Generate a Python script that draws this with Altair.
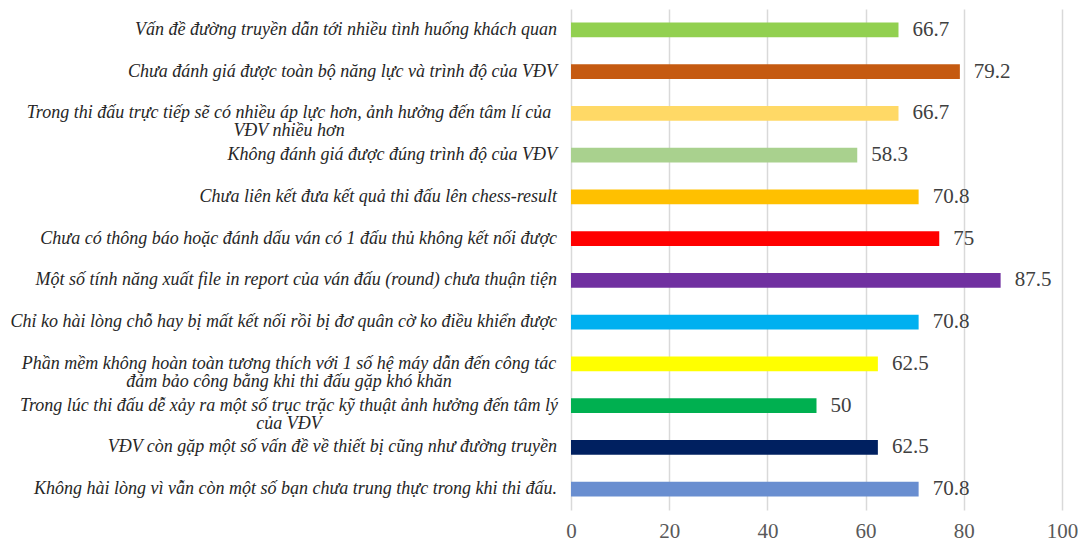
import altair as alt
import pandas as pd

labels = [
    "Vấn đề đường truyền dẫn tới nhiều tình huống khách quan",
    "Chưa đánh giá được toàn bộ năng lực và trình độ của VĐV",
    "Trong thi đấu trực tiếp sẽ có nhiều áp lực hơn, ảnh hưởng đến tâm lí của\nVĐV nhiều hơn",
    "Không đánh giá được đúng trình độ của VĐV",
    "Chưa liên kết đưa kết quả thi đấu lên chess-result",
    "Chưa có thông báo hoặc đánh dấu ván có 1 đấu thủ không kết nối được",
    "Một số tính năng xuất file in report của ván đấu (round) chưa thuận tiện",
    "Chỉ ko hài lòng chỗ hay bị mất kết nối rồi bị đơ quân cờ ko điều khiển được",
    "Phần mềm không hoàn toàn tương thích với 1 số hệ máy dẫn đến công tác\nđảm bảo công bằng khi thi đấu gặp khó khăn",
    "Trong lúc thi đấu dễ xảy ra một số trục trặc kỹ thuật ảnh hưởng đến tâm lý\ncủa VĐV",
    "VĐV còn gặp một số vấn đề về thiết bị cũng như đường truyền",
    "Không hài lòng vì vẫn còn một số bạn chưa trung thực trong khi thi đấu.",
]
values = [66.7, 79.2, 66.7, 58.3, 70.8, 75, 87.5, 70.8, 62.5, 50, 62.5, 70.8]
colors = ["#92D050", "#C55A11", "#FFD966", "#A9D18E", "#FFC000", "#FF0000",
          "#7030A0", "#00B0F0", "#FFFF00", "#00B050", "#002060", "#698ED0"]
x_ticks = [0, 20, 40, 60, 80, 100]

SERIF = "Liberation Serif"

df = pd.DataFrame({"label": labels, "value": values})
df["multi"] = df["label"].str.contains("\n")

y_enc = alt.Y(
    "label:N",
    sort=labels,
    scale=alt.Scale(paddingInner=0.65, paddingOuter=0.325),
    axis=alt.Axis(title=None, labels=False, ticks=False, domain=False),
)

x_enc = alt.X(
    "value:Q",
    scale=alt.Scale(domain=[0, 100], nice=False),
    axis=alt.Axis(
        title=None,
        values=x_ticks,
        grid=True,
        gridColor="#d9d9d9",
        gridWidth=1.5,
        domain=False,
        ticks=False,
        labelFlush=False,
        labelFont=SERIF,
        labelFontSize=21,
        labelColor="#595959",
        labelBaseline="alphabetic",
        labelPadding=27,
    ),
)

base = alt.Chart(df).encode(y=y_enc)

bars = base.mark_bar().encode(
    x=x_enc,
    color=alt.Color("label:N", scale=alt.Scale(domain=labels, range=colors), legend=None),
)

values_text = base.mark_text(
    align="left", baseline="middle", dx=14,
    font=SERIF, fontSize=21, color="#404040",
).encode(x="value:Q", text=alt.Text("value:Q", format=".1~f"))

label_style = dict(
    baseline="middle", font=SERIF, fontStyle="italic", fontSize=18,
    color="#262626", lineBreak="\n", lineHeight=18,
)

single_labels = base.transform_filter("!datum.multi").mark_text(
    align="right", **label_style
).encode(x=alt.value(-14), text="label:N")

multi_labels = base.transform_filter("datum.multi").mark_text(
    align="center", **label_style
).encode(x=alt.value(-282), text="label:N")

chart = (
    alt.layer(bars, values_text, single_labels, multi_labels)
    .properties(
        width=491,
        height=501,
        autosize=alt.AutoSizeParams(type="none"),
        padding={"left": 563, "top": 1, "right": 16, "bottom": 32},
        background="white",
    )
    .configure_view(stroke=None)
)

chart.save("out.html", embed_options={"renderer": "svg", "actions": False})
